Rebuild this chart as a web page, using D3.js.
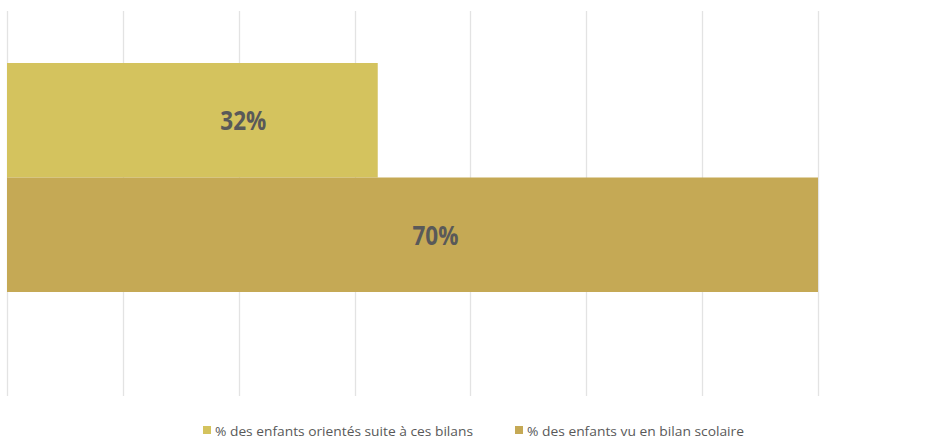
<!DOCTYPE html>
<html>
<head>
<meta charset="utf-8">
<script src="https://cdn.jsdelivr.net/npm/d3@7"></script>
<style>
  html, body { margin: 0; padding: 0; background: #fff; }
  svg { display: block; }
</style>
</head>
<body>
<svg id="chart" width="927" height="438"></svg>
<script>
// Series shown as horizontal bars, one category
const seriesNames = ["% des enfants orientés suite à ces bilans", "% des enfants vu en bilan scolaire"];
const seriesValues = [0.32, 0.70];
const seriesColors = ["#D4C35E", "#C5A955"];
const gridTicks = [0, 0.1, 0.2, 0.3, 0.4, 0.5, 0.6, 0.7];

const svg = d3.select("#chart");
const plot = { left: 7, right: 818, top: 11, bottom: 396 };

const x = d3.scaleLinear().domain([0, 0.7]).range([plot.left, plot.right]);
const y = d3.scaleBand().domain(seriesNames)
  .range([plot.top + 52, plot.bottom - 104]).paddingInner(0).paddingOuter(0);

// vertical gridlines
svg.append("g").selectAll("line").data(gridTicks).join("line")
  .attr("x1", d => Math.round(x(d)) + 0.5).attr("x2", d => Math.round(x(d)) + 0.5)
  .attr("y1", plot.top).attr("y2", plot.bottom)
  .attr("stroke", "#e3e3e3").attr("stroke-width", 1.3);

// bars
svg.append("g").selectAll("rect").data(seriesNames).join("rect")
  .attr("x", x(0))
  .attr("y", d => y(d))
  .attr("width", (d, i) => x(seriesValues[i]) - x(0))
  .attr("height", y.bandwidth())
  .attr("fill", (d, i) => seriesColors[i]);

// value labels, nudged right of the bar centre
const labelShift = [51, 23];
svg.append("g").selectAll("text").data(seriesNames).join("text")
  .attr("x", (d, i) => (x(0) + x(seriesValues[i])) / 2 + labelShift[i])
  .attr("y", d => y(d) + y.bandwidth() / 2 + 10)
  .attr("text-anchor", "middle")
  .attr("font-family", "'Open Sans', sans-serif")
  .attr("font-weight", "bold")
  .attr("font-size", 26)
  .attr("textLength", 46)
  .attr("lengthAdjust", "spacingAndGlyphs")
  .attr("fill", "#595959")
  .text((d, i) => Math.round(seriesValues[i] * 100) + "%");

// legend
const legendX = [203, 515];
const legendW = [258, 217];
const legend = svg.append("g").selectAll("g").data(seriesNames).join("g")
  .attr("transform", (d, i) => `translate(${legendX[i]},0)`);
legend.append("rect")
  .attr("x", 0).attr("y", 426).attr("width", 8).attr("height", 8)
  .attr("fill", (d, i) => seriesColors[i]);
legend.append("text")
  .attr("x", 12).attr("y", 435.5)
  .attr("font-family", "'Open Sans', sans-serif")
  .attr("font-size", 12)
  .attr("textLength", (d, i) => legendW[i])
  .attr("lengthAdjust", "spacingAndGlyphs")
  .attr("fill", "#595959")
  .text(d => d);
</script>
</body>
</html>
